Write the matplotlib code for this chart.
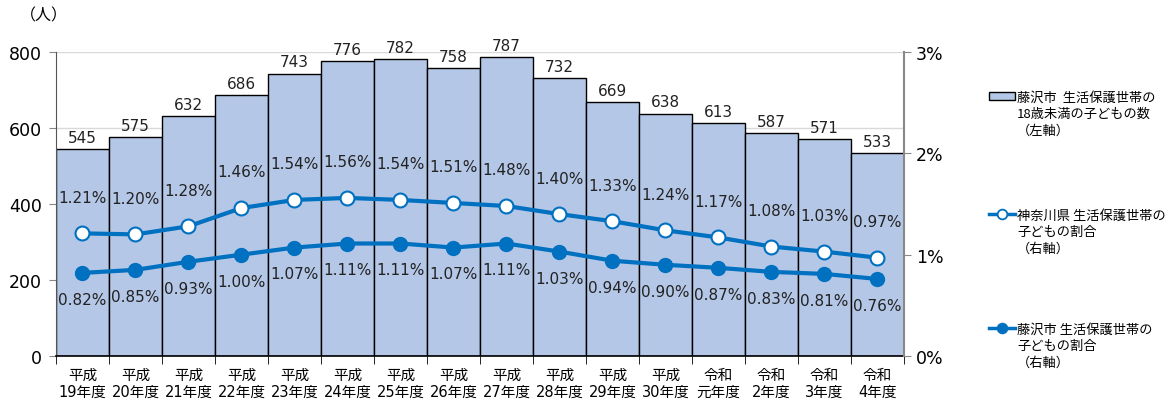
import numpy as np
import matplotlib
matplotlib.use("Agg")
import matplotlib.pyplot as plt
from matplotlib.lines import Line2D
from matplotlib.patches import Rectangle

plt.rcParams["font.family"] = ["DejaVu Sans", "Noto Sans CJK JP"]

years = ["平成\n19年度", "平成\n20年度", "平成\n21年度", "平成\n22年度", "平成\n23年度",
         "平成\n24年度", "平成\n25年度", "平成\n26年度", "平成\n27年度", "平成\n28年度",
         "平成\n29年度", "平成\n30年度", "令和\n元年度", "令和\n2年度", "令和\n3年度", "令和\n4年度"]
children = [545, 575, 632, 686, 743, 776, 782, 758, 787, 732, 669, 638, 613, 587, 571, 533]
kanagawa_rate = [1.21, 1.20, 1.28, 1.46, 1.54, 1.56, 1.54, 1.51, 1.48, 1.40, 1.33, 1.24, 1.17, 1.08, 1.03, 0.97]
fujisawa_rate = [0.82, 0.85, 0.93, 1.00, 1.07, 1.11, 1.11, 1.07, 1.11, 1.03, 0.94, 0.90, 0.87, 0.83, 0.81, 0.76]

bar_color = "#B4C7E7"
line_color = "#0070C0"
W, H = 1174, 406

fig = plt.figure(figsize=(W / 100, H / 100), dpi=100)
ax = fig.add_axes([0.0477, 0.1207, 0.7223, 0.7488])
x = np.arange(len(years))

ax.set_axisbelow(True)
ax.yaxis.grid(True, color="#D9D9D9", linewidth=1)
ax.bar(x, children, width=1.0, color=bar_color, edgecolor="black", linewidth=1, zorder=2)
for xi, v in zip(x, children):
    ax.annotate(str(v), (xi, v), xytext=(0, 3), textcoords="offset points",
                ha="center", va="bottom", fontsize=11, color="#222222")

ax.set_xlim(-0.5, len(years) - 0.5)
ax.set_ylim(0, 800)
ax.set_yticks([0, 200, 400, 600, 800])
ax.set_xticks(x)
ax.set_xticklabels(years, fontsize=10.5, linespacing=1.1)
ax.set_xticks(np.arange(-0.5, len(years), 1.0), minor=True)
ax.tick_params(axis="x", which="major", length=0, pad=8)
ax.tick_params(axis="x", which="minor", length=6, color="black")
ax.tick_params(axis="y", labelsize=12.5, length=5, color="#888888", pad=5)
for side in ["top", "right"]:
    ax.spines[side].set_visible(False)
ax.spines["left"].set_color("#555555")
ax.spines["bottom"].set_color("black")
ax.spines["bottom"].set_linewidth(1.2)

ax2 = ax.twinx()
ax2.set_ylim(0, 3)
ax2.set_yticks([0, 1, 2, 3])
ax2.set_yticklabels(["0%", "1%", "2%", "3%"])
ax2.tick_params(axis="y", labelsize=12.5, length=5, color="#888888")
for side in ["top", "left", "bottom"]:
    ax2.spines[side].set_visible(False)
ax2.spines["right"].set_color("#888888")
ax2.spines["right"].set_linewidth(1.5)

ax2.plot(x, kanagawa_rate, color=line_color, linewidth=3, marker="o", markersize=10,
         markerfacecolor="white", markeredgecolor=line_color, markeredgewidth=1.5, zorder=3)
ax2.plot(x, fujisawa_rate, color=line_color, linewidth=3, marker="o", markersize=10,
         markerfacecolor=line_color, markeredgecolor=line_color, zorder=3)

for xi, v in zip(x, kanagawa_rate):
    ax2.annotate(f"{v:.2f}%", (xi, v), xytext=(0, 26), textcoords="offset points",
                 ha="center", va="center", fontsize=11, color="#222222")
for xi, v in zip(x, fujisawa_rate):
    ax2.annotate(f"{v:.2f}%", (xi, v), xytext=(0, -19), textcoords="offset points",
                 ha="center", va="center", fontsize=11, color="#222222")

cjk = ["Noto Sans CJK JP", "DejaVu Sans"]
fig.text(20 / W, 1 - 16 / H, "（人）", fontsize=11.5, ha="left", va="center", family=cjk)

# legend drawn by hand so the handle sits on the first text line
legend_labels = [
    "藤沢市  生活保護世帯の\n18歳未満の子どもの数\n（左軸）",
    "神奈川県 生活保護世帯の\n子どもの割合\n（右軸）",
    "藤沢市 生活保護世帯の\n子どもの割合\n（右軸）",
]
legend_tops = [97, 215, 329]
for i, (lab, ty) in enumerate(zip(legend_labels, legend_tops)):
    yf = 1 - ty / H
    if i == 0:
        fig.patches.append(Rectangle((989 / W, 1 - (ty + 3.5) / H), 26 / W, 7 / H,
                                     transform=fig.transFigure, facecolor=bar_color,
                                     edgecolor="black", linewidth=1))
    else:
        face = "white" if i == 1 else line_color
        fig.add_artist(Line2D([989 / W, 1015 / W], [yf, yf], transform=fig.transFigure,
                              color=line_color, linewidth=2.5))
        fig.add_artist(Line2D([1002 / W], [yf], transform=fig.transFigure, marker="o",
                              markersize=7, markerfacecolor=face, markeredgecolor=line_color,
                              markeredgewidth=1.3, linestyle="none"))
    fig.text(1017 / W, yf + 5.5 / H, lab, fontsize=9.5, ha="left", va="top",
             linespacing=1.35, family=cjk)

fig.savefig("out.png", dpi=100)
